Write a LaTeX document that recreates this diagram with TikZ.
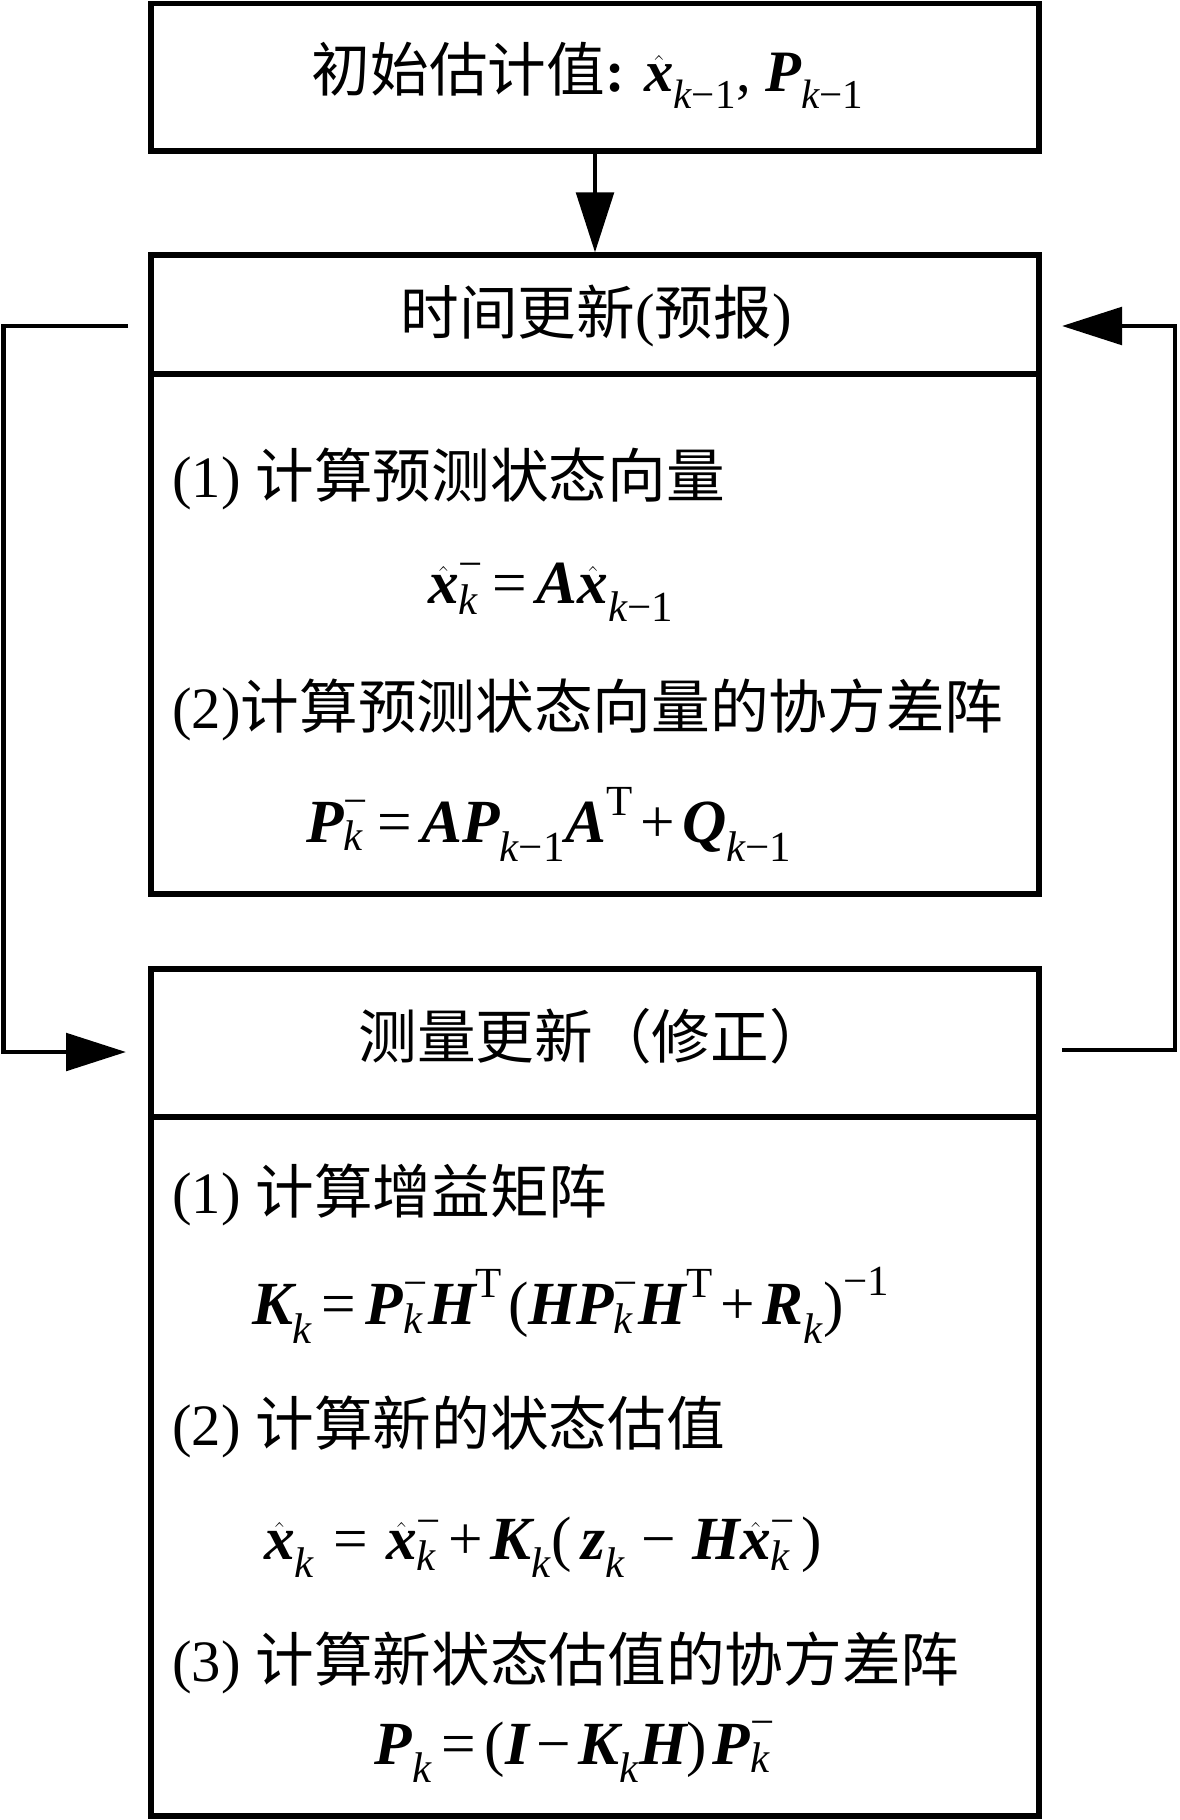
\documentclass[tikz,border=0pt]{standalone}
\usepackage{amsmath}
\usepackage{fontspec}
\setmainfont{Liberation Serif}
\newfontfamily\cjk{Noto Sans CJK SC}
\usetikzlibrary{arrows.meta}
\newcommand{\B}[1]{\text{\bfseries\itshape #1}}
\newcommand{\I}[1]{\text{\normalfont\itshape #1}}
\newcommand{\R}[1]{\text{\normalfont #1}}
\newcommand{\mEq}{\mathrel{\R{=}}}
\newcommand{\mPl}{\mathbin{\R{+}}}
\newcommand{\mMi}{\mathbin{\R{−}}}
\begin{document}
\begin{tikzpicture}[x=0.75pt,y=-0.75pt,
  frame/.style={draw, line width=3.9pt, inner sep=0pt, minimum width=666pt},
  txt/.style={inner sep=0pt, font=\fontsize{44}{50}\selectfont},
  fml/.style={inner sep=0pt, font=\fontsize{46}{52}\selectfont},
  conn/.style={line width=3.4pt},
  tip/.style={-{Triangle[length=45pt,width=28pt]}}]
\useasboundingbox (0,0) rectangle (1179,1820);
% boxes
\node[frame, minimum height=110.6pt] (b1) at (595,77.25) {};
\node[frame, minimum height=89.25pt] (h2) at (595,314.5) {};
\node[frame, minimum height=390pt] (b2) at (595,634) {};
\node[frame, minimum height=111pt] (h3) at (595,1043) {};
\node[frame, minimum height=524.25pt] (b3) at (595,1466.5) {};
% texts
\node[txt] (t1) at (588,75) {{\cjk 初始估计值}\textbf{:} $\hat{\B{x}}_{\I{k}\R{−1}}$, $\B{P}_{\I{k}\R{−1}}$};
\node[txt] (t2) at (596,316) {{\cjk 时间更新}({\cjk 预报})};
\node[txt, anchor=west] (l1) at (172,479) {(1) {\cjk 计算预测状态向量}};
\node[fml] (f1) at (551,592) {$\hat{\B{x}}^{\R{−}}_{\I{k}} \mEq \B{A}\hat{\B{x}}_{\I{k}\R{−1}}$};
\node[txt, anchor=west] (l2) at (172,710) {(2){\cjk 计算预测状态向量的协方差阵}};
\node[fml] (f2) at (549,824) {$\B{P}^{\R{−}}_{\I{k}} \mEq \B{A}\B{P}_{\I{k}\R{−1}}\B{A}^{\R{T}} \mPl \B{Q}_{\I{k}\R{−1}}$};
\node[txt] (t3) at (593,1036) {{\cjk 测量更新（修正）}};
\node[txt, anchor=west] (l3) at (172,1195) {(1) {\cjk 计算增益矩阵}};
\node[fml] (f3) at (571,1305) {$\B{K}_{\I{k}} \mEq \B{P}^{\R{−}}_{\I{k}}\B{H}^{\R{T}}\,\R{(}\B{H}\B{P}^{\R{−}}_{\I{k}}\B{H}^{\R{T}} \mPl \B{R}_{\I{k}}\R{)}^{\R{−1}}$};
\node[txt, anchor=west] (l4) at (172,1427) {(2) {\cjk 计算新的状态估值}};
\node[fml] (f4) at (543,1547) {$\hat{\B{x}}_{\I{k}} \;\mEq\; \hat{\B{x}}^{\R{−}}_{\I{k}} \mPl \B{K}_{\I{k}}\R{(}\;\B{z}_{\I{k}} \;\mMi\; \B{H}\hat{\B{x}}^{\R{−}}_{\I{k}}\,\R{)}$};
\node[txt, anchor=west] (l5) at (172,1663) {(3) {\cjk 计算新状态估值的协方差阵}};
\node[fml] (f5) at (575,1752) {$\B{P}_{\I{k}} \mEq \R{(}\B{I} \mMi \B{K}_{\I{k}}\B{H}\R{)}\,\B{P}^{\R{−}}_{\I{k}}$};
% connectors
\coordinate (ls) at (128,326);
\coordinate (le) at (126,1052);
\coordinate (rs) at (1062,1050);
\coordinate (re) at (1062,326);
\draw[conn, tip] (b1.south) -- (h2.north);
\draw[conn, tip] (ls) -- (3.5,326) -- (3.5,1052) -- (le);
\draw[conn, tip] (rs) -- (1175,1050) -- (1175,326) -- (re);
\end{tikzpicture}
\end{document}
